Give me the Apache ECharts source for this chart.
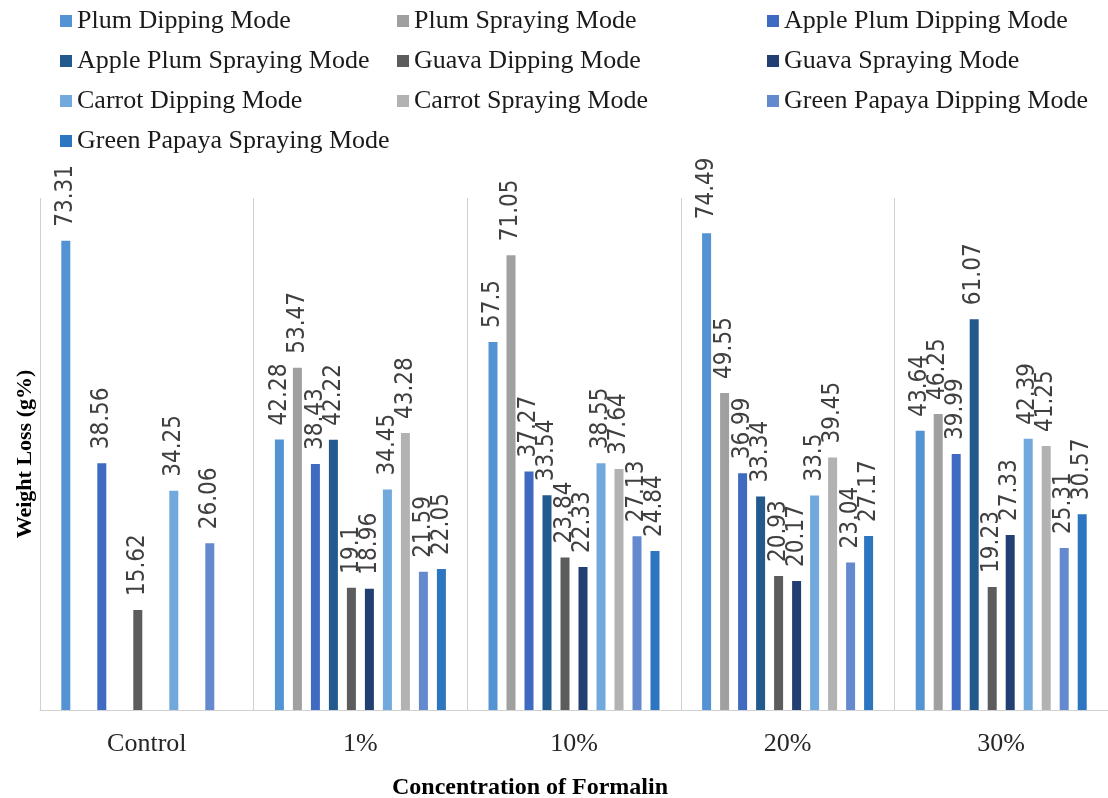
<!DOCTYPE html>
<html>
<head>
<meta charset="utf-8">
<script src="https://cdn.jsdelivr.net/npm/echarts@6/dist/echarts.min.js"></script>
<style>
  html, body { margin: 0; padding: 0; background: #fff; }
  #main { width: 1108px; height: 798px; }
</style>
</head>
<body>
<div id="main"></div>
<script>
// categories on the x axis
var categories = ['Control', '1%', '10%', '20%', '30%'];

// series values (control has no spraying mode)
var plumDip        = [73.31, 42.28, 57.5, 74.49, 43.64];
var plumSpray      = [null, 53.47, 71.05, 49.55, 46.25];
var applePlumDip   = [38.56, 38.43, 37.27, 36.99, 39.99];
var applePlumSpray = [null, 42.22, 33.54, 33.34, 61.07];
var guavaDip       = [15.62, 19.1, 23.84, 20.93, 19.23];
var guavaSpray     = [null, 18.96, 22.33, 20.17, 27.33];
var carrotDip      = [34.25, 34.45, 38.55, 33.5, 42.39];
var carrotSpray    = [null, 43.28, 37.64, 39.45, 41.25];
var papayaDip      = [26.06, 21.59, 27.13, 23.04, 25.31];
var papayaSpray    = [null, 22.05, 24.84, 27.17, 30.57];

var seriesNames = [
    'Plum Dipping Mode', 'Plum Spraying Mode', 'Apple Plum Dipping Mode',
    'Apple Plum Spraying Mode', 'Guava Dipping Mode', 'Guava Spraying Mode',
    'Carrot Dipping Mode', 'Carrot Spraying Mode', 'Green Papaya Dipping Mode',
    'Green Papaya Spraying Mode'
];
var seriesData = [plumDip, plumSpray, applePlumDip, applePlumSpray, guavaDip,
    guavaSpray, carrotDip, carrotSpray, papayaDip, papayaSpray];
var colors = ['#5393d4', '#a0a0a0', '#3f6ac2', '#225a8e', '#5c5c5c',
    '#223f73', '#72a9dc', '#b2b2b2', '#6489cf', '#2c75c0'];

var serif = "'Liberation Serif', 'Times New Roman', serif";
var narrow = "'Liberation Sans Narrow', 'DejaVu Sans Condensed', sans-serif";

var chart = echarts.init(document.getElementById('main'));

var series = seriesNames.map(function (name, i) {
    return {
        name: name,
        type: 'bar',
        data: seriesData[i],
        barWidth: 9,
        barGap: '100%',
        itemStyle: { color: colors[i] },
        label: {
            show: true,
            position: 'top',
            rotate: 90,
            align: 'left',
            verticalAlign: 'middle',
            distance: 14,
            fontFamily: narrow,
            fontSize: 24,
            color: '#404040'
        }
    };
});

// legend laid out in three columns, like the original
function legendCol(idx, left) {
    return {
        orient: 'vertical',
        left: left,
        top: 3,
        itemWidth: 12,
        itemHeight: 12,
        itemGap: 14,
        icon: 'rect',
        data: idx.map(function (k) { return seriesNames[k]; }),
        textStyle: { fontFamily: serif, fontSize: 26, color: '#1a1a1a', lineHeight: 24 }
    };
}

chart.setOption({
    animation: false,
    color: colors,
    title: {
        text: 'Concentration of Formalin',
        left: 525,
        top: 771,
        textAlign: 'center',
        textStyle: { fontFamily: serif, fontSize: 24, fontWeight: 'bold', color: '#000' }
    },
    legend: [
        legendCol([0, 3, 6, 9], 55),
        legendCol([1, 4, 7], 392),
        legendCol([2, 5, 8], 762)
    ],
    grid: { left: 40, right: 0, top: 198, bottom: 88 },
    xAxis: {
        type: 'category',
        data: categories,
        axisLine: { lineStyle: { color: '#d0d0d0', width: 1 } },
        axisTick: { show: false },
        splitLine: { show: true, lineStyle: { color: '#d0d0d0', width: 1 } },
        axisLabel: { fontFamily: serif, fontSize: 26, color: '#262626', margin: 21 }
    },
    yAxis: {
        type: 'value',
        min: 0,
        max: 80,
        name: 'Weight Loss (g%)',
        nameLocation: 'middle',
        nameGap: 4,
        nameTextStyle: { fontFamily: serif, fontSize: 22, fontWeight: 'bold', color: '#000' },
        axisLine: { show: false },
        axisTick: { show: false },
        axisLabel: { show: false },
        splitLine: { show: false }
    },
    series: series
});
</script>
</body>
</html>
